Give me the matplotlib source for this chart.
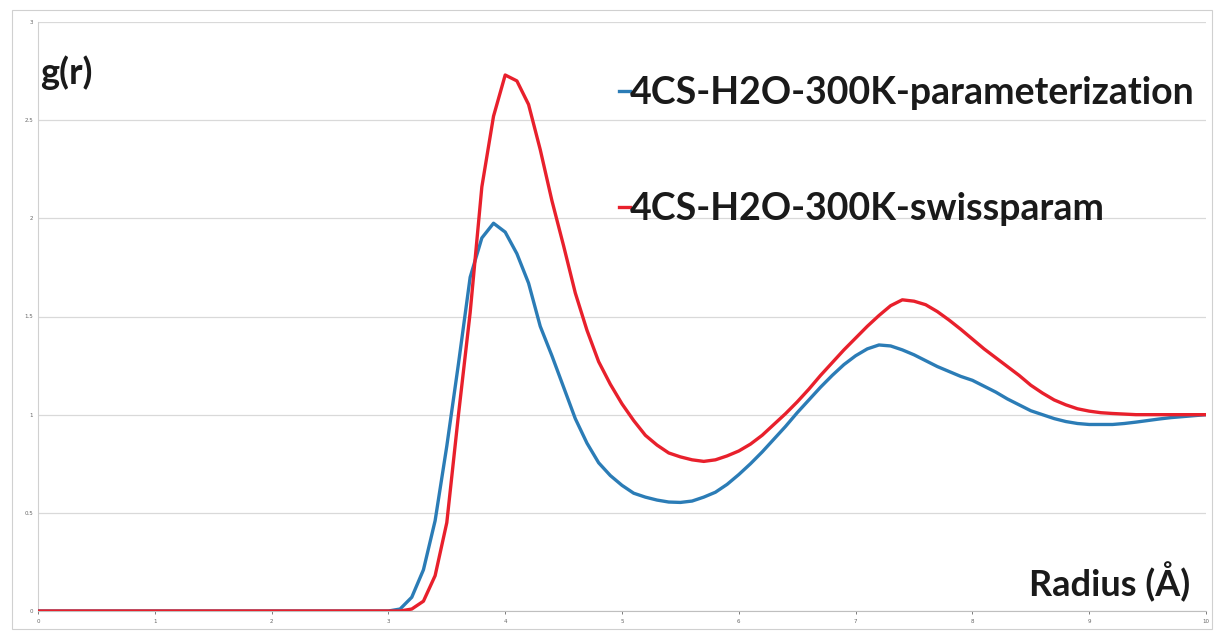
import matplotlib
matplotlib.use("Agg")
import matplotlib.pyplot as plt
from matplotlib.patches import Rectangle

# radius (angstrom) - zero before 3.0 in both runs
radius = [0.0, 3.0, 3.1, 3.2, 3.3, 3.4, 3.5, 3.6, 3.7, 3.8, 3.9,
          4.0, 4.1, 4.2, 4.3, 4.4, 4.5, 4.6, 4.7, 4.8, 4.9,
          5.0, 5.1, 5.2, 5.3, 5.4, 5.5, 5.6, 5.7, 5.8, 5.9,
          6.0, 6.1, 6.2, 6.3, 6.4, 6.5, 6.6, 6.7, 6.8, 6.9,
          7.0, 7.1, 7.2, 7.3, 7.4, 7.5, 7.6, 7.7, 7.8, 7.9,
          8.0, 8.1, 8.2, 8.3, 8.4, 8.5, 8.6, 8.7, 8.8, 8.9,
          9.0, 9.1, 9.2, 9.3, 9.4, 9.5, 9.6, 9.7, 9.8, 9.9, 10.0]

g_param = [0.0, 0.0, 0.01, 0.07, 0.21, 0.46, 0.84, 1.26, 1.70, 1.90, 1.975,
           1.93, 1.82, 1.67, 1.45, 1.30, 1.14, 0.98, 0.855, 0.755, 0.69,
           0.64, 0.60, 0.58, 0.565, 0.555, 0.553, 0.56, 0.58, 0.605, 0.645,
           0.695, 0.75, 0.81, 0.875, 0.94, 1.01, 1.075, 1.14, 1.20, 1.255,
           1.30, 1.335, 1.355, 1.35, 1.33, 1.305, 1.275, 1.245, 1.22, 1.195,
           1.175, 1.145, 1.115, 1.08, 1.05, 1.02, 1.0, 0.98, 0.965, 0.955,
           0.95, 0.95, 0.95, 0.955, 0.962, 0.97, 0.978, 0.985, 0.99, 0.995, 1.0]

g_swiss = [0.0, 0.0, 0.0, 0.01, 0.05, 0.18, 0.45, 1.0, 1.52, 2.16, 2.52,
           2.73, 2.70, 2.58, 2.35, 2.09, 1.86, 1.62, 1.43, 1.27, 1.155,
           1.055, 0.97, 0.895, 0.845, 0.805, 0.785, 0.77, 0.762, 0.77, 0.79,
           0.815, 0.85, 0.895, 0.95, 1.005, 1.065, 1.13, 1.20, 1.265, 1.33,
           1.39, 1.45, 1.505, 1.555, 1.585, 1.578, 1.56, 1.525, 1.482, 1.435,
           1.385, 1.335, 1.29, 1.245, 1.20, 1.15, 1.11, 1.075, 1.05, 1.03,
           1.018, 1.01, 1.006, 1.003, 1.0, 1.0, 1.0, 1.0, 1.0, 1.0, 1.0]

labels = ['4CS-H2O-300K-parameterization', '4CS-H2O-300K-swissparam']
x_ticks = [0, 1, 2, 3, 4, 5, 6, 7, 8, 9, 10]
y_ticks = [0, 0.5, 1, 1.5, 2, 2.5, 3]

W, H = 1217, 632
fig = plt.figure(figsize=(W / 100, H / 100), dpi=100)
ax = fig.add_axes([38 / W, 1 - 611 / H, (1206 - 38) / W, (611 - 22) / H])

ax.plot(radius, g_param, color='#2b7cb6', lw=2.4, label=labels[0], zorder=3)
ax.plot(radius, g_swiss, color='#e8202c', lw=2.4, label=labels[1], zorder=3)

ax.set_xlim(0, 10)
ax.set_ylim(0, 3)
ax.set_xticks(x_ticks)
ax.set_yticks(y_ticks)
ax.set_xticklabels([str(t) for t in x_ticks])
ax.set_yticklabels(['0', '0.5', '1', '1.5', '2', '2.5', '3'])
ax.tick_params(axis='both', labelsize=4, colors='#666666', length=2, width=0.6)
ax.tick_params(axis='y', length=0)
ax.grid(axis='y', color='#d9d9d9', lw=0.9)
ax.set_axisbelow(True)
for side in ['top', 'right']:
    ax.spines[side].set_visible(False)
ax.spines['left'].set_color('#d0d0d0')
ax.spines['bottom'].set_color('#bfbfbf')

font = 'Lato'
fig.text(40 / W, 1 - 84 / H, 'g(r)', fontsize=26, fontweight='bold',
         family=font, color='#1a1a1a')
fig.text(1190 / W, 1 - 596 / H, 'Radius (Å)', fontsize=26, fontweight='bold',
         family=font, color='#1a1a1a', ha='right')

leg = ax.legend(loc='upper left', bbox_to_anchor=(619 / W, 1 - 76 / H),
                bbox_transform=fig.transFigure, frameon=False,
                prop={'family': font, 'weight': 'bold', 'size': 27},
                handlelength=0.3, handletextpad=0.0, labelspacing=2.2,
                borderpad=0, borderaxespad=0)
for t in leg.get_texts():
    t.set_color('#1a1a1a')

# thin frame around the whole chart
fig.patches.append(Rectangle((12 / W, 3 / H), (1212 - 12) / W, (622 - 3) / H,
                             transform=fig.transFigure, fill=False,
                             edgecolor='#d0d0d0', lw=0.8))

fig.savefig('out.png', dpi=100)
